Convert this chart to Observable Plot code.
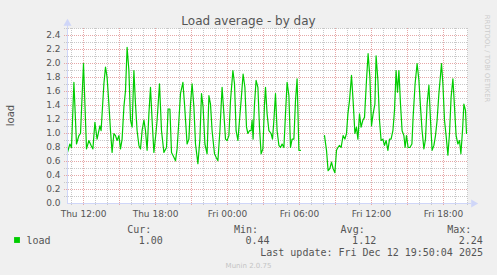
<!DOCTYPE html>
<html><head><meta charset="utf-8">
<script src="https://cdn.jsdelivr.net/npm/d3@7"></script>
<script src="https://cdn.jsdelivr.net/npm/@observablehq/plot@0.6"></script>
<style>
html,body{margin:0;padding:0;background:#f0f0f0;}
#wrap{position:relative;width:497px;height:275px;overflow:hidden;}
</style></head><body><div id="wrap"></div>
<script>
const title = "Load average - by day";
const yLabel = "load";
const sideNote = "RRDTOOL / TOBI OETIKER";
const footer = "Munin 2.0.75";
const seriesName = "load";
const statLabels = ["Cur:", "Min:", "Avg:", "Max:"];
const statValues = ["1.00", "0.44", "1.12", "2.24"];
const lastUpdate = "Last update: Fri Dec 12 19:50:04 2025";

// minutes after Thu 10:40
const minutes = [0,12,20,32,45,57,65,80,95,107,118,127,137,148,162,168,182,190,198,207,215,223,232,240,248,257,265,273,282,290,298,307,315,323,332,340,348,357,365,373,382,390,398,407,415,423,432,442,448,460,470,482,495,503,512,520,532,540,548,557,565,577,585,598,607,615,623,632,640,652,662,670,678,687,698,707,715,723,735,743,752,762,773,782,790,798,807,815,827,835,843,852,860,868,878,887,895,902,910,918,923,928,935,943,952,960,968,977,985,990,998,1007,1018,1025,1032,1040,1048,1057,1065,1073,1082,1090,1098,1107,1115,1123,1132,1140,1148,1157,1165,1225,1285,1295,1303,1312,1320,1328,1337,1345,1352,1360,1368,1378,1387,1395,1402,1410,1420,1428,1437,1445,1452,1460,1468,1477,1485,1495,1503,1512,1520,1528,1537,1543,1552,1560,1568,1577,1585,1593,1602,1610,1618,1627,1635,1643,1650,1657,1665,1673,1682,1688,1695,1703,1712,1722,1728,1738,1748,1757,1765,1773,1782,1790,1798,1807,1815,1823,1832,1840,1848,1857,1865,1870,1877,1885,1893,1902,1910,1918,1927,1935,1943,1952,1960,1967,1975,1982,1990,1995];
const loadValues = [0.73,0.85,0.80,1.73,0.85,0.97,1.00,2.00,0.78,0.90,0.83,0.78,1.16,0.92,1.11,1.04,1.71,1.95,1.80,1.42,1.04,0.73,1.00,0.97,0.90,0.97,0.78,0.92,1.38,1.61,2.23,1.90,1.19,1.09,1.90,1.42,1.04,0.83,0.78,1.04,1.19,1.04,0.76,1.28,1.66,1.19,0.73,1.00,1.19,1.71,1.04,0.73,0.80,1.35,1.35,0.73,0.66,0.61,0.78,1.19,1.57,1.73,1.42,0.85,0.92,1.42,1.71,1.38,0.85,0.57,0.92,1.57,1.38,0.85,0.71,1.54,1.42,1.04,0.71,0.66,0.61,1.04,1.66,1.28,0.92,0.90,0.97,1.47,1.90,1.71,1.04,0.90,1.19,1.47,1.85,1.66,1.09,1.00,1.04,1.04,1.19,0.92,1.42,1.76,1.66,1.09,0.71,0.78,1.42,1.66,1.28,1.04,1.00,0.92,1.19,1.57,1.04,0.83,0.80,0.85,0.80,1.28,1.73,1.54,0.80,0.92,0.92,1.47,1.78,0.76,0.76,null,0.97,0.76,0.47,0.50,0.59,0.50,0.44,0.76,0.80,0.83,0.80,0.97,0.92,1.00,1.28,1.47,1.83,1.47,1.00,1.09,0.92,1.28,1.09,1.19,1.23,1.76,2.14,1.80,1.11,1.28,1.42,2.11,1.76,1.19,0.90,0.92,0.83,0.90,0.76,0.92,0.92,1.04,1.33,1.90,1.59,1.90,1.42,1.04,0.97,0.80,0.97,0.80,0.80,0.85,1.23,1.71,2.00,1.76,1.38,1.04,0.78,0.92,1.42,1.69,1.19,0.76,0.83,0.97,1.19,1.57,1.83,2.00,1.71,1.19,0.97,0.69,1.00,1.52,1.78,1.38,0.97,0.85,0.90,0.71,1.04,1.42,1.33,1.00];

const yTickValues = [0.0,0.2,0.4,0.6,0.8,1.0,1.2,1.4,1.6,1.8,2.0,2.2,2.4];
const yTickLabels = ["0.0","0.2","0.4","0.6","0.8","1.0","1.2","1.4","1.6","1.8","2.0","2.2","2.4"];
const xTickMinutes = [80,440,800,1160,1520,1880];
const xTickLabels = ["Thu 12:00","Thu 18:00","Fri 00:00","Fri 06:00","Fri 12:00","Fri 18:00"];

const data = minutes.map((m, i) => ({m, v: loadValues[i]}));

const L = 67, T = 28; // frame origin used for frame-anchored texts
const minorY = d3.range(1, 26).filter(i => i % 2 !== 0).map(i => i / 10);
const majorY = d3.range(2, 25, 2).map(i => i / 10);
const hours = d3.range(20, 2001, 60);
const majorX = hours.filter(m => (m - 80) % 180 === 0);
const minorX = hours.filter(m => (m - 80) % 180 !== 0);

const axisCol = "#CFD6F8";
const fontCol = "#555555";
const sans = "DejaVu Sans";
const mono = "DejaVu Sans Mono";
const one = [0];

const chart = Plot.plot({
  width: 497, height: 275,
  marginLeft: 67, marginRight: 30, marginTop: 28, marginBottom: 72,
  style: {background: "transparent", fontFamily: sans, fontSize: "9px", color: fontCol, overflow: "visible"},
  x: {domain: [0, 2000], axis: null},
  y: {domain: [0, 2.5], axis: null},
  marks: [
    Plot.frame({fill: "white", stroke: "none"}),
    Plot.ruleY(minorY, {stroke: "#c8c8c8", strokeDasharray: "1,1", insetLeft: -3}),
    Plot.ruleX(minorX, {stroke: "#c8c8c8", strokeDasharray: "1,1", insetBottom: -3}),
    Plot.ruleY(majorY, {stroke: "#e6a7a7", strokeDasharray: "1,1", insetLeft: -3}),
    Plot.ruleX(majorX, {stroke: "#e6a7a7", strokeDasharray: "1,1", insetBottom: -3}),
    Plot.line(data, {x: "m", y: "v", stroke: "#00cc00", strokeWidth: 1.2}),
    Plot.ruleY([0], {stroke: axisCol, insetRight: -4}),
    Plot.ruleX([0], {stroke: axisCol, insetTop: -4}),
    Plot.dot(one, {x: () => 2000, y: () => 0, symbol: "triangle", rotate: 90, r: 3, fill: axisCol, stroke: "none", dx: 6}),
    Plot.dot(one, {x: () => 0, y: () => 2.5, symbol: "triangle", r: 3, fill: axisCol, stroke: "none", dy: -5}),
    Plot.text(yTickValues, {x: () => 0, y: d => d, text: (d, i) => yTickLabels[i], textAnchor: "end", dx: -7, fill: fontCol, fontSize: 9}),
    Plot.text(xTickMinutes, {x: d => d, y: () => 0, text: (d, i) => xTickLabels[i], lineAnchor: "bottom", dy: 13, fill: fontCol, fontSize: 9}),
    // title and side texts
    Plot.text([title], {frameAnchor: "top-left", dx: 248 - L, dy: 24 - T, lineAnchor: "bottom", textAnchor: "middle", fontSize: 12, fill: fontCol}),
    Plot.text([yLabel], {frameAnchor: "top-left", dx: 10 - L, dy: 115 - T, rotate: -90, textAnchor: "middle", lineAnchor: "middle", fontSize: 10, fill: fontCol}),
    Plot.text([sideNote], {frameAnchor: "top-left", dx: 487 - L, dy: 58 - T, rotate: 90, textAnchor: "middle", lineAnchor: "middle", fontSize: 6.8, fill: "#cccccc"}),
    // legend
    Plot.dot(one, {frameAnchor: "top-left", dx: 16.5 - L, dy: 239.5 - T, symbol: "square", r: 3.3, fill: "#00cc00", stroke: "none"}),
    Plot.text([seriesName], {frameAnchor: "top-left", dx: 26 - L, dy: 243 - T, lineAnchor: "bottom", textAnchor: "start", fontFamily: mono, fontSize: 10, fill: fontCol}),
    ...statLabels.map((s, i) => Plot.text([s], {frameAnchor: "top-left", dx: 126.7 + i * 106.7 - L, dy: 232 - T, lineAnchor: "bottom", textAnchor: "start", fontFamily: mono, fontSize: 10, fill: fontCol})),
    ...statValues.map((s, i) => Plot.text([s], {frameAnchor: "top-left", dx: 162.3 + i * 106.7 - L, dy: 243 - T, lineAnchor: "bottom", textAnchor: "end", fontFamily: mono, fontSize: 10, fill: fontCol})),
    Plot.text([lastUpdate], {frameAnchor: "top-left", dx: 482.5 - L, dy: 255 - T, lineAnchor: "bottom", textAnchor: "end", fontFamily: mono, fontSize: 10, fill: fontCol}),
    Plot.text([footer], {frameAnchor: "top-left", dx: 248 - L, dy: 267 - T, lineAnchor: "bottom", textAnchor: "middle", fontSize: 7, fill: "#c4c4c4"})
  ]
});
document.getElementById("wrap").appendChild(chart);
</script></body></html>
